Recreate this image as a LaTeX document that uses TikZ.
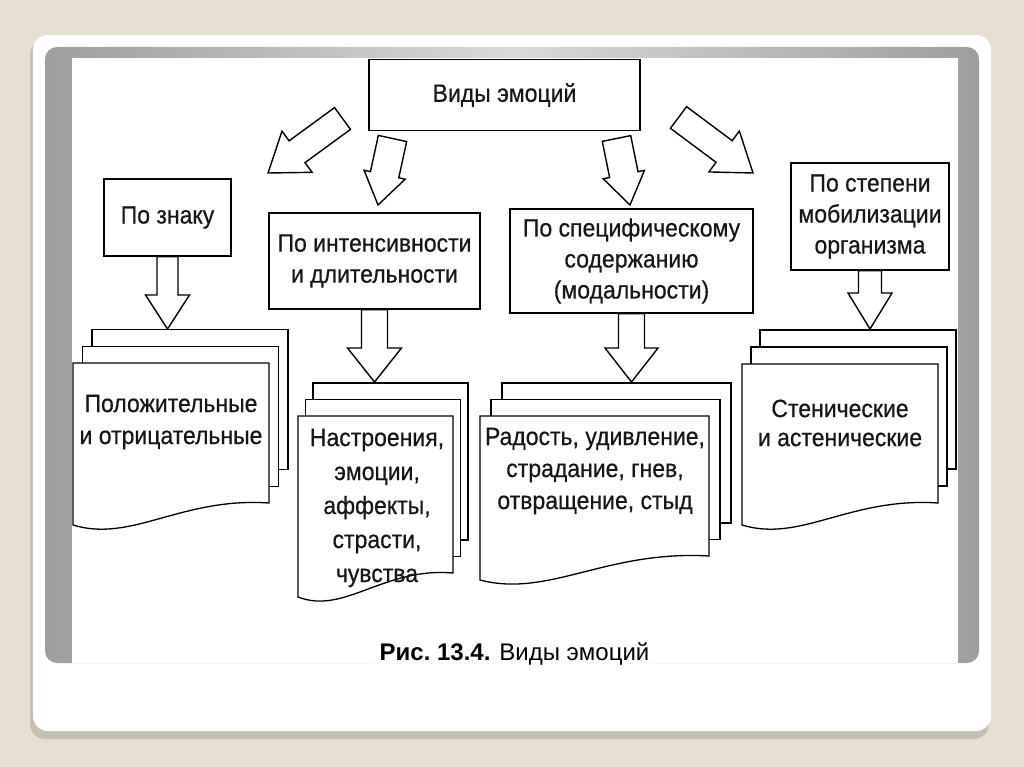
\documentclass[tikz,border=0pt]{standalone}
\usepackage{fontspec}
\setmainfont{Liberation Sans}
\newfontfamily\condfont[FakeStretch=0.92,FakeBold=0.5]{Liberation Sans}
\usetikzlibrary{calc}
\definecolor{bgbeige}{RGB}{229,223,212}
\definecolor{shadowc}{RGB}{198,192,180}
\definecolor{framedark}{RGB}{158,158,158}
\definecolor{framelight}{RGB}{218,218,218}
\definecolor{inkc}{RGB}{22,22,22}
\newcommand\hollowarrow[5]{% tail, tip, shaft half width, head half width, head length
  \coordinate (hb) at ($(#2)!#5!(#1)$);
  \draw[blockarrow] ($(#1)!#3!90:(#2)$) -- ($(hb)!#3!90:(#2)$) -- ($(hb)!#4!90:(#2)$) -- (#2)
    -- ($(hb)!#4!-90:(#2)$) -- ($(hb)!#3!-90:(#2)$) -- ($(#1)!#3!-90:(#2)$) -- cycle;
}
\newcommand\docstack[7]{% L T R RB LB dx dy
  \draw[sheet] ({#1+2*#6},{#2-2*#7}) rectangle ({#3+2*#6},{#4-2*#7});
  \draw[sheet] ({#1+#6},{#2-#7}) rectangle ({#3+#6},{#4-#7});
  \draw[sheet] (#1,#2) -- (#3,#2) -- (#3,#4)
    .. controls ({#1+0.55*(#3-#1)},{#4-6}) and ({#1+0.3*(#3-#1)},{#5+18}) .. (#1,#5) -- cycle;
}
\tikzset{
  box/.style={draw=black, line width=1.4pt, fill=white, inner sep=0pt, align=center,
    font=\condfont\fontsize{25}{31}\selectfont, text=inkc},
  doctext/.style={align=center, inner sep=0pt, font=\condfont\fontsize{25}{32}\selectfont, text=inkc},
  sheet/.style={draw=black, line width=1.3pt, fill=white, line join=miter},
  blockarrow/.style={draw=black, line width=1.4pt, fill=white, line join=miter},
}
\begin{document}
\begin{tikzpicture}[x=1pt,y=-1pt]
\useasboundingbox (0,0) rectangle (1024,767);
% slide background
\fill[bgbeige] (0,0) rectangle (1024,767);
\fill[shadowc, rounded corners=15pt] (30,40) rectangle (989,739);
\fill[white, rounded corners=15pt] (33,35) rectangle (991,731);
\shade[left color=framedark, right color=framedark, middle color=framelight, rounded corners=12pt] (45,47) rectangle (979,663);
\fill[white] (72,58) rectangle (958,663);

% boxes
\node[box, minimum width=271pt, minimum height=71pt] (top) at (504.5,95) {Виды эмоций};
\node[box, minimum width=127pt, minimum height=77pt] (sign) at (167.5,217.5) {По знаку};
\node[box, minimum width=211pt, minimum height=96pt] (intens) at (374.5,261) {По интенсивности\\и длительности};
\node[box, minimum width=243pt, minimum height=104pt] (spec) at (631.5,261) {По специфическому\\содержанию\\(модальности)};
\node[box, minimum width=158pt, minimum height=107pt] (mobil) at (870,216.5) {По степени\\мобилизации\\организма};

% document stacks
\docstack{73}{363}{269}{503}{525}{9.5}{16.7}
\docstack{298}{416}{453}{573}{597}{7.5}{16.5}
\docstack{480}{416}{709}{556}{580}{11}{16.5}
\docstack{742}{364}{938}{503}{525}{9}{17}

\node[doctext] (d1) at (171,422) {Положительные\\и отрицательные};
\node[doctext, font=\condfont\fontsize{25}{34}\selectfont] (d2) at (377,508) {Настроения,\\эмоции,\\аффекты,\\страсти,\\чувства};
\node[doctext] (d3) at (595,471) {Радость, удивление,\\страдание, гнев,\\отвращение, стыд};
\node[doctext, font=\condfont\fontsize{25}{29}\selectfont] (d4) at (840,423) {Стенические\\и астенические};

% arrow coordinates
\coordinate (a1t) at (342.5,118.5); \coordinate (a1p) at (268,173);
\coordinate (a2t) at (392.5,138.5); \coordinate (a2p) at (378,205);
\coordinate (a3t) at (616.5,138.5); \coordinate (a3p) at (630,205);
\coordinate (a4t) at (678.5,117.5); \coordinate (a4p) at (753,173);
\coordinate (v1p) at (167.5,329);
\coordinate (v2p) at (374.5,382);
\coordinate (v3p) at (631.5,382);
\coordinate (v4p) at (870,329);

\hollowarrow{a1t}{a1p}{13.5pt}{25.5pt}{36pt}
\hollowarrow{a2t}{a2p}{14.5pt}{21pt}{31pt}
\hollowarrow{a3t}{a3p}{14.5pt}{21pt}{31pt}
\hollowarrow{a4t}{a4p}{13.5pt}{25.5pt}{36pt}
\hollowarrow{sign.south}{v1p}{10.5pt}{22pt}{34pt}
\hollowarrow{intens.south}{v2p}{13pt}{27pt}{34pt}
\hollowarrow{spec.south}{v3p}{13pt}{26.5pt}{34pt}
\hollowarrow{mobil.south}{v4p}{11.5pt}{22pt}{36pt}

% caption
\node[font=\fontsize{24}{28}\selectfont, text=black, inner sep=0pt] (cap) at (514.5,654) {\textbf{Рис.~13.4.} Виды эмоций};
\end{tikzpicture}
\end{document}
